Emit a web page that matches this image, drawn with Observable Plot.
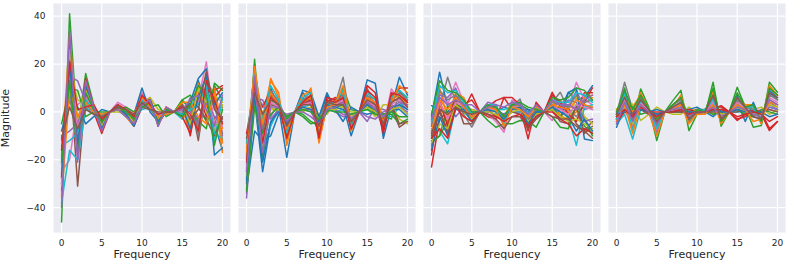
<!DOCTYPE html>
<html>
<head>
<meta charset="utf-8">
<script src="https://cdn.jsdelivr.net/npm/d3@7"></script>
<script src="https://cdn.jsdelivr.net/npm/@observablehq/plot@0.6"></script>
<style>
  html, body { margin: 0; padding: 0; background: white; }
  #chart svg { display: block; }
  g[aria-label="y-axis label"] text { font-size: 11px; }
</style>
</head>
<body>
<div id="chart"></div>
<script>
const freq = [0,1,2,3,4,5,6,7,8,9,10,11,12,13,14,15,16,17,18,19,20];
const xTicks = [0, 5, 10, 15, 20];
const yTicks = [-40, -20, 0, 20, 40];
const xLabel = "Frequency";
const yLabel = "Magnitude";
const panels = ["p1", "p2", "p3", "p4"];
const tab10 = ["#1f77b4","#ff7f0e","#2ca02c","#d62728","#9467bd","#8c564b","#e377c2","#7f7f7f","#bcbd22","#17becf"];

const panel1Lines = [
  [-12, 8, -4, 5, 1, -2, 0, 2, -1, -3, 4, 2, -2, 0, 0, 2, -4, 13, 3, -5, -16],
  [-35, 30, -10, 12, 2, -6, 0, 3, 0, -5, 6, 3, -3, 1, 0, -1, 3, -6, 12, 8, -17],
  [-46, 41, -8, 16, 3, -8, 0, 1, -2, -4, 3, 4, -4, 1, 0, 5, 7, 2, -4, 11, 5],
  [-28, 24, -12, 10, 0, -9, 0, 2, -1, -6, 2, 5, -5, 0, 0, 3, -10, 8, -2, 9, 11],
  [-20, 15, 13, 4, 1, -3, 0, 1, 1, -2, 5, 2, -1, -1, 0, 1, 2, -3, 6, 4, -10],
  [-30, 20, -31, 8, 2, -5, 0, 3, 0, -4, 3, 6, -6, 2, 0, -2, 5, -12, 10, -3, 2],
  [-25, -20, 3, 6, 0, -1, 0, 4, 2, -1, 8, 3, -2, 0, 0, 2, -3, 5, 21, -6, -8],
  [-18, 12, -15, 2, -1, -4, 0, 1, 0, -5, 2, 1, -3, 1, 0, -2, 6, -10, 8, 5, -12],
  [-15, 18, 5, 3, 2, -2, 0, 0, -1, -3, 4, 6, 1, 0, 0, 4, -6, 10, 0, -8, 3],
  [-38, -16, -20, 1, 1, -1, 0, 2, 1, -2, 1, 2, -1, -1, 0, -3, 3, 6, 14, -12, 6],
  [-8, 5, 2, -5, -2, 1, 0, 3, 0, -1, 10, 0, -4, 1, 0, -1, 4, 14, 18, -18, -15],
  [-22, 32, -6, 11, 3, -7, 0, 2, -2, -6, 5, 4, -3, 2, 0, 1, -8, 12, 2, 10, -7],
  [-5, 10, 9, -2, 0, 0, 0, 1, 2, 0, 3, 2, 3, -2, 0, 5, 1, -4, -7, 12, 9],
  [-33, 28, -18, 14, 2, -6, 0, 3, -1, -4, 4, 5, -3, 1, 0, -2, -9, 8, 10, 6, 10],
  [-10, -8, -5, 7, 1, -3, 0, 2, 0, -3, 6, 3, -2, 0, 0, 2, 0, -5, 4, -2, -4],
  [-26, 22, -10, 9, 0, -4, 0, 1, 1, -2, 2, 1, -1, 0, 0, 1, 3, 2, -3, -10, -2],
  [-24, 16, -7, 6, 1, -3, 0, 2, 0, -3, 3, 2, -2, 1, 0, 1, -2, 4, 6, -4, -6],
  [-19, 6, -12, 3, 0, -5, 0, 1, -1, -4, 2, 3, -4, 0, 0, 0, 2, -7, 9, 2, -9],
  [-31, 26, -3, 9, 2, -6, 0, 2, 1, -5, 4, 4, -3, 1, 0, 3, -5, 9, 4, 7, 4],
  [-14, -12, -9, 5, 1, -2, 0, 3, 0, -2, 5, 1, -1, 0, 0, -1, 1, 3, 11, -9, -11],
  [-27, 19, -14, 11, 2, -7, 0, 2, -1, -6, 3, 5, -4, 1, 0, 2, -7, 6, 15, 3, 8],
  [-36, 9, -2, 4, 0, -1, 0, 1, 1, -1, 6, 2, -2, -1, 0, 4, 4, -2, -5, 8, -13],
  [-21, 13, -17, 8, 1, -4, 0, 2, 0, -3, 2, 4, -5, 1, 0, -2, 3, 11, 7, -14, 1],
  [-16, 21, 1, 2, 3, -3, 0, 3, 1, -2, 7, 3, -1, 0, 0, 2, -1, -8, 13, 5, -5],
  [-40, 34, -21, 13, 2, -8, 0, 1, -2, -5, 3, 5, -6, 2, 0, 1, 5, 7, 1, -6, 7],
  [-11, 2, -7, 1, -1, -2, 0, 2, 1, -1, 4, 1, 0, 0, 0, 3, -3, 1, 17, 1, -3]
];

const panel2Lines = [
  [-30, 5, -25, -5, 2, -19, 0, 8, 4, -3, 7, 2, 3, -10, 0, 13.4, 12, -11, 2, 14.5, 7],
  [-20, 10, -8, 14, 6, -12, 0, 4, 10, -13, 3, 5, 8, -6, 0, 6, 2, -4, 4, 6, 3],
  [-28, 22, -20, 5, 3, -6, 0, -2, -5, -4, 2, 1, 10, 1, 0, 4, 1, -2, -3, 8, 6],
  [-25, 14, -10, 10, 1, -8, 0, 6, 3, -10, 4, 6, 5, -5, 0, 9, 3, -8, 6, 10, 10],
  [-36, 6, 5, -2, 4, -3, 0, 1, 0, -6, 1, 0, -2, -1, 0, -4, 2, 1, 0, 3, -1],
  [-15, 16, -6, 3, 2, -5, 0, 3, 6, -5, 0, 2, 6, -4, 0, 3, -1, -3, 2, -6.4, -4],
  [-22, 12, -14, 8, 5, -9, 0, 2, 5, -8, 3, 3, 4, -3, 0, 7, 4, -6, 9.6, 5, 2],
  [-18, 18, -4, 6, 3, -7, 0, 5, 7, -3, 5, 3, 14.5, -6, 0, 10, 1, -5, 6, 4, 1],
  [-12, 4, 0, 2, 0, -2, 0, 0, 2, -1, -1, 4, 2, 0, 0, 2, -2, 3, 3, -3, -5],
  [-26, 8, -16, -6, 1, -4, 0, 2, 3, -4, 2, 0, 1, -3, 0, 1, 3, -1, -2, 2, 5],
  [-32, -8, -12, -10, -1, -2, 0, 9, 8, -2, 8, 1, -4, 2, 0, -1, 0, -2, 1, 1, -2],
  [-16, 15, -2, 13, 8, -14, 0, 7, 9, -12, 2, 5, 9, -8, 0, 5, 6, -3, 5, 7, 3],
  [-24, 20, -18, 4, 2, -3, 0, -1, -4, -6, 0, 2, 3, -5, 0, 3, 0, -1, -1, -5, -3],
  [-9, 10, 2, 9, 3, -10, 0, 3, 5, -11, 6, 5, 7, -7, 0, 11, 8, -9, 7, 9, 4],
  [-34, 7, 3, -3, 1, -1, 0, 1, 1, -7, 1, 1, -1, -2, 0, -2, -3, 0, 1, 2, 0],
  [-20, 11, -9, 7, 4, -6, 0, 4, 4, -4, 2, 3, 4, -4, 0, 4, 2, -4, 3, -5, -4],
  [-23, 9, -11, 4, 2, -6, 0, 3, 4, -6, 2, 3, 5, -4, 0, 5, 2, -3, 3, 5, 2],
  [-19, 13, -7, 9, 4, -8, 0, 5, 6, -8, 4, 4, 7, -5, 0, 7, 3, -5, 5, 8, 5],
  [-27, 3, -15, 1, 1, -4, 0, 1, 2, -3, 1, 1, 2, -2, 0, 2, 0, -2, 1, 2, -1],
  [-13, 17, -3, 11, 5, -9, 0, 6, 8, -9, 3, 4, 9, -6, 0, 8, 5, -6, 6, 9, 6],
  [-29, 6, -21, -4, 0, -5, 0, 2, 1, -4, 3, 2, 1, -3, 0, 3, 1, -3, 2, 3, 1],
  [-17, 19, -5, 8, 3, -7, 0, 4, 6, -7, 2, 3, 11, -4, 0, 6, 4, -4, 4, 11, 8],
  [-33, 2, -9, -1, 2, -2, 0, 1, 0, -3, 1, 0, 0, -1, 0, 1, -1, -1, 0, -2, -2],
  [-21, 12, -13, 6, 3, -11, 0, 4, 7, -10, 5, 4, 6, -7, 0, 9, 6, -7, 8, 7, 4],
  [-25, 15, -17, 2, 2, -4, 0, 0, -2, -5, 1, 2, 4, -3, 0, 4, 1, -2, 2, 4, 3],
  [-11, 8, -1, 5, 3, -6, 0, 3, 3, -6, 4, 3, 3, -4, 0, 5, 3, -5, 4, 6, 2]
];

const panel3Lines = [
  [-2, 16.6, 2, 4, 1, -1, 0, 1, 0, 2, 1, 1, 0, 1, 0, 2, 1, 8.2, 5, 6, 11],
  [-8, 3, -5, 6, 2, -3, 0, 2, 1, -2, 3, 2, -4, 2, 0, 3, 5, 0, -4, 4, 6],
  [-12, -10, -4, 5, 3, -2, 0, 1, 2, -3, 2, 3, 1, -1, 0, 1, 2, -3, 2, -6, -9],
  [-23, -3, 0, 2, 1, 7.5, 0, -2, -3, 6, 1, 2, -11.3, 3, 0, 8.2, 2, 3, 1, 8, 8],
  [-5, 6, 4, -2, 2, 1, 0, 2, 1, -1, 2, 1, 1, 0, 0, 2, 4, 1, 9, 1, 2],
  [-10, 1, -8, 3, 1, -2, 0, 1, 2, -2, 1, 2, -3, -1, 0, 3, -2, 2, -5, -8, -4],
  [-15, 8, 3, 12.4, 4, -3, 0, -1, -4, -8.5, 5, 3, -2, 2, 0, -3.6, 1, 2, 12.4, 5, 3],
  [-14, 2, 14.5, 4, -1, -6.4, 0, 1, 3, -4, 2, 5.4, -6, 1, 0, 4, 8.2, 1, -2, 3, 1],
  [0, 4, -2, 5, 0, 1, 0, 2, 0, -3, 1, 2, -1, 1, 0, 2, -1, -4, 6, -2, -5],
  [-7, -8, -13.4, 2, 1, -4, 0, 1, 1, 1, 2, 1, 0, -2, 0, 1, 0, -2, -14, 2, 3],
  [2.6, 1, 0, 3, 2, 0, 0, 0, -1, -1, 0, 0, 1, 0, 0, 3, -3, 8, 10, -11.3, -12],
  [-6, 10, -3, 8, 6, -1, 0, 3, 2, -2, 4, 2, -5, 2, 0, 5, -2, -3, 0, 6, 7],
  [-13, -10, 2, 4, 0, -3, 0, -3.6, -6.4, -5, -5, -3.6, -4, -6.4, 0, -2, -6.4, -7, 3, -3, -10],
  [-18, 5, -6, 7, 3, 5, 0, 2, 4.7, 6, 6, 3, -8, 4, 0, 7, 4, -1, -4, 4, 10],
  [-3, 7, 6, 10, 1, -2, 0, 4, 3, -6, 3, 4, -2, 1, 0, 2, 1, 5, 4, -4, -3],
  [-11, 0, -9, 5, -5, -5, 0, 1, -2, -3, 0, -1, -6, -2, 0, 1, -4, -5, 2, -9, -6],
  [-9, 4, -3, 4, 2, -1, 0, 1, 1, -2, 2, 2, -2, 1, 0, 2, 1, -1, 3, 2, 1],
  [-6, 9, 5, 7, 3, -2, 0, 2, 2, -4, 3, 3, -3, 1, 0, 4, 3, 2, 7, 4, 5],
  [-13, -5, -7, 3, 0, -3, 0, 0, -1, -3, 0, 1, -4, -1, 0, 1, -2, -4, -3, -5, -7],
  [-4, 11, 8, 9, 4, -1, 0, 3, 3, -5, 4, 3, -1, 2, 0, 5, 4, 4, 8, 7, 4],
  [-16, -2, -10, 1, 1, -4, 0, 1, 0, -3, 1, 2, -5, 0, 0, 2, 0, -2, -8, -3, -8],
  [-8, 5, 1, 6, 2, -2, 0, 2, 1, -6, 2, 1, -2, 2, 0, 3, 2, 1, 5, 3, 2],
  [-1, 13, 9, 8, 5, 0, 0, 3, 2, -2, 3, 4, 2, 1, 0, 6, 5, 6, 10, 9, 5],
  [-11, -7, -11, 2, -2, -4, 0, -1, -2, -4, -2, -1, -6, -2, 0, 0, -3, -5, -10, -7, -9],
  [-3, 6, 3, 5, 3, 3, 0, 2, 3, 2, 4, 3, -1, 3, 0, 5, 3, 3, 1, 5, 7],
  [-9, 1, -1, 2, 0, -1, 0, -1, -3, -7, -2, -2, -7, -3, 0, -2, -3, -3, -6, -8, -11]
];

const panel4Lines = [
  [-2, 3, -1, 5, 1, -3, 0, 2, 4, -2, 0, 0, 6, -3, 0, 7, 1, -2, -3, 9, 6],
  [1, 5, 2, 7, 0, -6, 0, 3, 6, -3, 1, 0, 9, -4, 0, 6, 3, 3, -5, 10, 7],
  [-2, 10, -5, 9.6, 2, -12, 0, 4.7, 9, -7.8, -1, -1, 12.4, -6, 0, 10.3, 2, -6.4, -5.7, 12.4, 8.2],
  [-3, 1, -2, 3, 0, -1, 0, 1, 1, 0, 1, 0, 1, 2.6, 0, -3.6, -1, 1, -1, -7.8, -4],
  [-1, 2, -3, 2, 1, -2, 0, 1, 2, -1, 0, 1, 2, -1, 0, 2, 0, -1, 0, 3, 1],
  [0, 4, -4, 4, -1, -4, 0, 2, 3, -3, 1, 0, 3, -2, 0, 3, 1, -1, -2, 5, 3],
  [-4, 1, -6, 2, 0, -8, 0, 1, 1, -1, 0, 0, 1, -1, 0, 1, 0, 0, 1, 1, 0],
  [-1, 12.4, 1, 6, 0, -2, 0, 3, 5, -2, 1, 1, 4, -2, 0, 5, 2, 1, -1, 4, 2],
  [1.3, 0, 3.3, -3.6, -1, 2, 0, -1, -1, 2, 0, 0, -1, 1, 0, 1, -1, 1, 2, -1, 1],
  [-5, -1, -11.3, 1, 1, -1, 0, 0, 1, 1, -1, 1, 0, 1, 0, 0, 0, 0, -1, 2, 1],
  [-6.4, 2, -2, 1, 0, 1, 0, 0, 0, 1, 2, 0, -2, 1, 0, 4, -4, 4, -4, 8, 5],
  [0, 6, 0, 8, 1, -5, 0, 2, 7, -4, 0, 0, 8, -5, 0, 4, 3, 2, -5, 11, 7],
  [-2, 3, 2, -1, 0, -3, 0, 0, 0, -1, 0, 1, -1, 0, 0, 1, -1, -2, 1, 0, -1],
  [-4, 0, -2, 3, 0, 0, 0, 1, 0, 1, 0, 0, 2, 2, 0, -3, -2, 1, 0, -7, -4],
  [-1, 4, -7, 2, 0, -9, 0, 1, 2, -1, 0, 0, 1, -1, 0, 2, 0, -1, -1, 2, 1],
  [-3, 1, -1, 1, -1, -1, 0, 0, 0, 0, -1, 0, 0, 0, 0, 0, 1, 0, 0, 1, 0],
  [-1, 5, -2, 4, 0, -4, 0, 2, 3, -2, 0, 0, 4, -2, 0, 4, 1, -1, -2, 6, 4],
  [0, 7, -3, 6, 1, -6, 0, 3, 5, -4, 0, 0, 6, -3, 0, 5, 2, 1, -3, 7, 5],
  [-2, 2, -5, 3, 0, -3, 0, 1, 2, -2, 1, 0, 2, -1, 0, 2, 0, -1, -1, 3, 2],
  [-3, 8, -8, 5, 1, -7, 0, 2, 4, -3, 0, 1, 5, -3, 0, 6, 2, 2, -4, 8, 6],
  [-1, 0, -1, 1, 0, -1, 0, 0, 1, 0, 0, 0, 1, 0, 0, 1, 0, 0, 0, -2, -1],
  [-4, 3, -9, 3, 0, -10, 0, 1, 3, -5, -1, -1, 3, -4, 0, 3, 1, -4, -3, 4, 3],
  [0, 9, 1, 7, 1, -3, 0, 3, 6, -3, 1, 0, 10, -4, 0, 8, 2, 3, -4, 10, 7],
  [-2, 1, -2, 2, 0, -2, 0, 0, 1, -1, 0, 0, 1, 1, 0, -2, -1, 0, -1, -4, -2],
  [-5, 4, -4, 3, 0, -5, 0, 1, 2, -2, 0, 0, 2, -2, 0, 2, 1, -1, -2, 5, 3],
  [-1, 6, -1, 5, 1, -4, 0, 2, 4, -3, 0, 0, 7, -3, 0, 6, 2, -2, -3, 8, 6]
];

const allPanels = [panel1Lines, panel2Lines, panel3Lines, panel4Lines];
const rows = allPanels.flatMap((lines, pi) =>
  lines.flatMap((vals, li) =>
    vals.map((v, xi) => ({panel: panels[pi], series: panels[pi] + "-" + li, colorIdx: li % 10, freq: freq[xi], mag: v}))
  )
);

const chart = Plot.plot({
  width: 789,
  height: 263,
  marginLeft: 53,
  marginRight: 3,
  marginTop: 3,
  marginBottom: 31,
  style: {fontFamily: "'DejaVu Sans', sans-serif", fontSize: "9px", color: "#262626", background: "white"},
  fx: {domain: panels, axis: null, paddingInner: 0.0416, paddingOuter: 0},
  x: {domain: [-1, 21]},
  y: {domain: [-50.4, 45.3]},
  color: {type: "ordinal", domain: d3.range(10), range: tab10},
  marks: [
    Plot.frame({fill: "#eaeaf2", stroke: null}),
    Plot.gridX({ticks: xTicks, stroke: "white", strokeOpacity: 1, strokeWidth: 1.2}),
    Plot.gridY({ticks: yTicks, stroke: "white", strokeOpacity: 1, strokeWidth: 1.2}),
    Plot.line(rows, {x: "freq", y: "mag", z: "series", stroke: "colorIdx", fx: "panel", strokeWidth: 1.5, strokeOpacity: 1}),
    Plot.axisX({ticks: xTicks, tickSize: 0, tickPadding: 7, label: null}),
    Plot.text([xLabel], {frameAnchor: "bottom", lineAnchor: "middle", dy: 22, fontSize: 11, fill: "#262626"}),
    Plot.axisY({ticks: yTicks, tickSize: 0, tickPadding: 8, label: yLabel, labelAnchor: "center", labelArrow: "none", labelOffset: 52})
  ]
});
document.getElementById("chart").appendChild(chart);
</script>
</body>
</html>
